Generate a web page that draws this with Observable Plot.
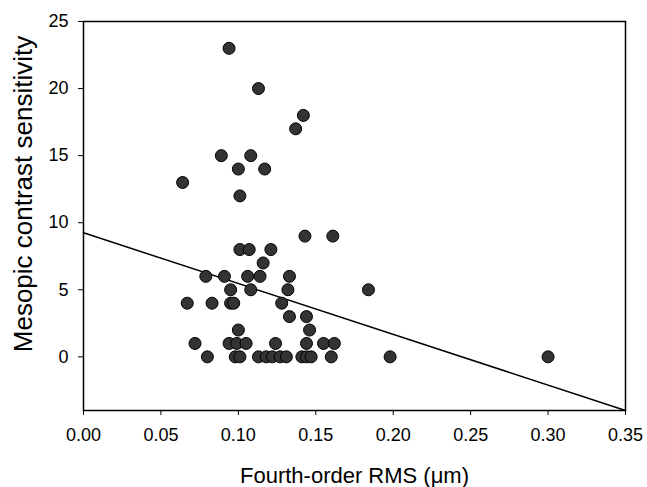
<!DOCTYPE html>
<html>
<head>
<meta charset="utf-8">
<script src="https://cdn.jsdelivr.net/npm/d3@7"></script>
<script src="https://cdn.jsdelivr.net/npm/@observablehq/plot@0.6"></script>
<style>
  html, body { margin: 0; padding: 0; background: #fff; }
</style>
</head>
<body>
<div id="chart"></div>
<script>
// Fourth-order RMS (µm) and mesopic contrast sensitivity
const rmsValues = [
  0.094, 0.113, 0.142, 0.137, 0.089, 0.108, 0.100, 0.117, 0.064, 0.101,
  0.143, 0.161,
  0.101, 0.107, 0.121,
  0.116,
  0.079, 0.091, 0.106, 0.114, 0.133,
  0.095, 0.108, 0.132, 0.184,
  0.067, 0.083, 0.095, 0.097, 0.128,
  0.133, 0.144,
  0.100, 0.146,
  0.072, 0.094, 0.099, 0.105, 0.124, 0.144, 0.155, 0.162,
  0.080, 0.098, 0.101, 0.113, 0.118, 0.122, 0.127, 0.131, 0.141, 0.144, 0.147, 0.160, 0.198, 0.300
];
const sensitivityValues = [
  23, 20, 18, 17, 15, 15, 14, 14, 13, 12,
  9, 9,
  8, 8, 8,
  7,
  6, 6, 6, 6, 6,
  5, 5, 5, 5,
  4, 4, 4, 4, 4,
  3, 3,
  2, 2,
  1, 1, 1, 1, 1, 1, 1, 1,
  0, 0, 0, 0, 0, 0, 0, 0, 0, 0, 0, 0, 0, 0
];
// Fitted regression line end points
const fitX = [0, 0.35];
const fitY = [9.25, -4.0];

const xTicks = [0, 0.05, 0.10, 0.15, 0.20, 0.25, 0.30, 0.35];
const yTicks = [0, 5, 10, 15, 20, 25];

const points = rmsValues.map((x, i) => ({x, y: sensitivityValues[i]}));
const fit = fitX.map((x, i) => ({x, y: fitY[i]}));

const chart = Plot.plot({
  width: 647,
  height: 487,
  marginLeft: 83,
  marginRight: 22,
  marginTop: 21,
  marginBottom: 77,
  style: {fontFamily: "'Liberation Sans', Arial, sans-serif", fontSize: "18px", background: "#fff", color: "#000"},
  x: {domain: [0, 0.35]},
  y: {domain: [-4, 25]},
  marks: [
    Plot.axisX({ticks: xTicks, tickFormat: d3.format(".2f"), tickSize: 5, tickPadding: 13,
      label: "Fourth-order RMS (μm)", labelAnchor: "center", labelOffset: 72, labelArrow: false}),
    Plot.axisY({ticks: yTicks, tickSize: 5, tickPadding: 10,
      label: "Mesopic contrast sensitivity", labelAnchor: "center", labelOffset: 70, labelArrow: false}),
    Plot.frame({stroke: "#000", strokeWidth: 1.5}),
    Plot.line(fit, {x: "x", y: "y", stroke: "#000", strokeWidth: 1.5}),
    Plot.dot(points, {x: "x", y: "y", r: 6, fill: "#333", stroke: "#000", strokeWidth: 1})
  ]
});

d3.select(chart).selectAll('g[aria-label="x-axis label"] text').style("font-size", "22px");
// the y title in the original is longer and sits a little above the frame centre
d3.select(chart).selectAll('g[aria-label="y-axis label"] text')
  .style("font-size", "26px")
  .attr("dx", 22);

document.getElementById("chart").appendChild(chart);
</script>
</body>
</html>
